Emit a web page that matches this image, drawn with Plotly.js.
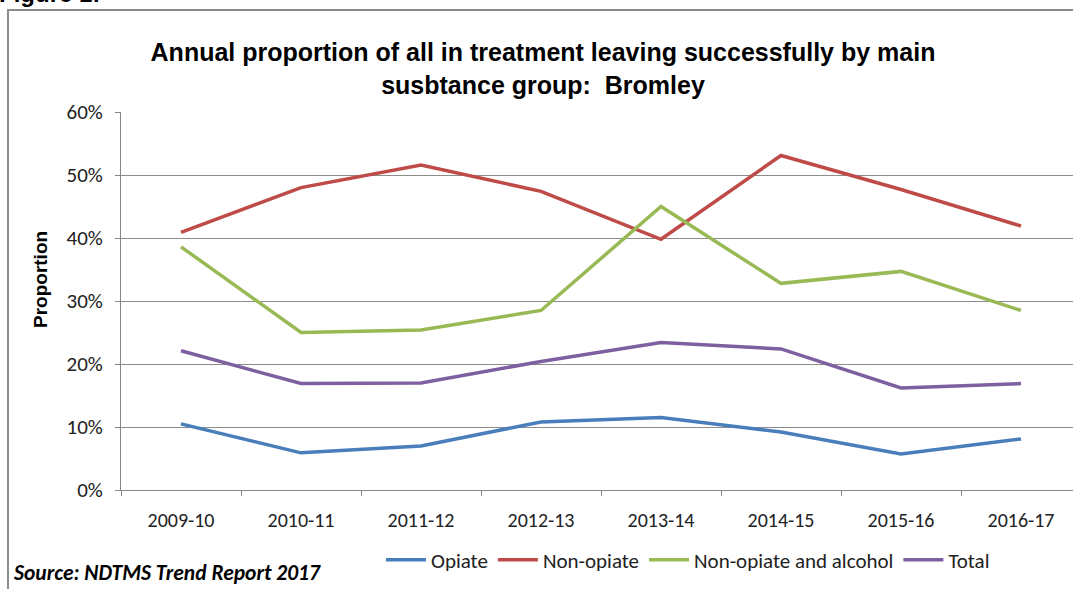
<!DOCTYPE html>
<html><head><meta charset="utf-8">
<script src="https://cdn.plot.ly/plotly-3.0.1.min.js"></script>
<style>html,body{margin:0;padding:0;background:#fff;}#chart{width:1073px;height:589px;}</style>
</head><body><div id="chart"></div>
<script>
const years = ["2009-10","2010-11","2011-12","2012-13","2013-14","2014-15","2015-16","2016-17"];
const opiate = [0.105,0.059,0.070,0.108,0.115,0.092,0.057,0.081];
const nonOpiate = [0.409,0.480,0.516,0.474,0.398,0.531,0.477,0.419];
const nonOpiateAlcohol = [0.386,0.250,0.254,0.285,0.450,0.328,0.347,0.285];
const total = [0.221,0.169,0.170,0.204,0.234,0.224,0.162,0.169];
const yTicks = [0,0.1,0.2,0.3,0.4,0.5,0.6];
const yTickText = ["0%","10%","20%","30%","40%","50%","60%"];

const W=1073,H=589,L=121,R=0,T=112,B=99;
const pw=W-L-R, ph=H-T-B;
const px = v => (v-L)/pw;
const py = v => (H-B-v)/ph;

const mk = (name,y,color)=>({type:'scatter',mode:'lines',x:years,y:y,name:name,
  line:{color:color,width:3.5}});
const data=[
  mk('Opiate',opiate,'#4a7ebb'),
  mk('Non-opiate',nonOpiate,'#be4b48'),
  mk('Non-opiate and alcohol',nonOpiateAlcohol,'#98b954'),
  mk('Total',total,'#7d60a0')
];
const FF='Carlito, Lato, sans-serif';
const layout={
  width:W,height:H,margin:{l:L,r:R,t:T,b:B},
  paper_bgcolor:'#fff',plot_bgcolor:'#fff',
  showlegend:true,
  title:{text:'<b>Annual proportion of all in treatment leaving successfully by main<br>susbtance group:  Bromley</b>',
    font:{family:'"Liberation Sans Narrow", "Arial Narrow", sans-serif',size:25,color:'#000'},
    xref:'paper',x:px(543),xanchor:'center',yref:'container',y:1-61/H,yanchor:'top'},
  xaxis:{type:'category',range:[-0.5,(pw/120)-0.5],showgrid:false,
    showline:true,linecolor:'#868686',linewidth:1,
    ticks:'outside',tickson:'boundaries',ticklen:5,tickcolor:'#868686',
    ticklabelstandoff:12,
    tickfont:{family:FF,size:20,color:'#222'},fixedrange:true},
  yaxis:{range:[0,0.6],tickvals:yTicks,ticktext:yTickText,
    showgrid:true,gridcolor:'#8c8c8c',gridwidth:1,
    showline:true,linecolor:'#868686',linewidth:1,zeroline:false,
    ticks:'outside',ticklen:5,tickcolor:'#868686',ticklabelstandoff:8,
    tickfont:{family:FF,size:21,color:'#222'}},
  legend:{orientation:'h',x:px(688),xanchor:'center',y:py(560),yanchor:'middle',
    font:{family:FF,size:21,color:'#222'},itemwidth:40,tracegroupgap:0},
  shapes:[
    {type:'rect',xref:'paper',yref:'paper',x0:px(8),x1:px(1090),y0:py(600),y1:py(10),
     line:{color:'#8c8c8c',width:2},fillcolor:'rgba(0,0,0,0)',layer:'below'}
  ],
  annotations:[
    {text:'<b>Proportion</b>',xref:'paper',yref:'paper',x:px(40),y:py(280),xanchor:'center',yanchor:'middle',
     textangle:-90,showarrow:false,font:{family:'"Liberation Sans", Arial, sans-serif',size:19,color:'#000'}},
    {text:'<b><i>Source: NDTMS Trend Report 2017</i></b>',xref:'paper',yref:'paper',
     x:px(11),y:py(573),xanchor:'left',yanchor:'middle',showarrow:false,
     font:{family:FF,size:21.5,color:'#000'}},
    {text:'<b>Figure 1:</b>',xref:'paper',yref:'paper',x:px(-3),y:py(9),xanchor:'left',yanchor:'bottom',
     showarrow:false,font:{family:'"Liberation Sans", Arial, sans-serif',size:24,color:'#000'}}
  ]
};
Plotly.newPlot('chart',data,layout,{displayModeBar:false,staticPlot:true});
</script></body></html>
